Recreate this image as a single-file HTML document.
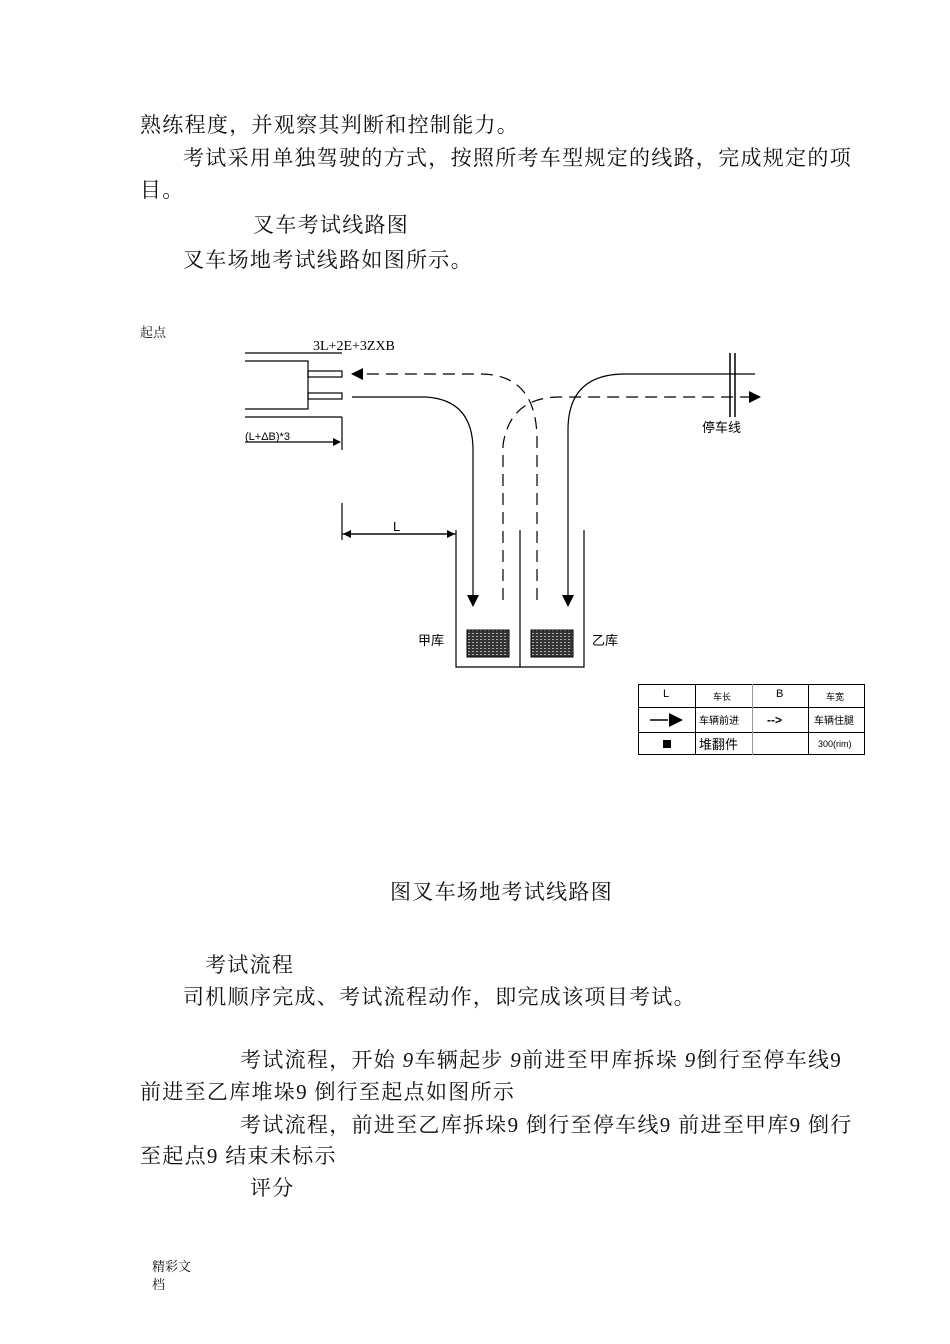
<!DOCTYPE html>
<html><head><meta charset="utf-8"><style>
body{margin:0;width:950px;height:1344px;background:#fff;position:relative;overflow:hidden;font-family:"Liberation Serif","Noto Serif CJK SC","Noto Sans CJK SC",serif;color:#111}
.t{position:absolute;white-space:nowrap;font-size:21px;line-height:24px;letter-spacing:1.3px}
.s{position:absolute;white-space:nowrap;font-family:"Liberation Sans","Noto Sans CJK SC",sans-serif}
svg{position:absolute;left:0;top:0}
</style></head><body>
<div class="t" style="left:140px;top:113px">熟练程度，并观察其判断和控制能力。</div>
<div class="t" style="left:183px;top:146px">考试采用单独驾驶的方式，按照所考车型规定的线路，完成规定的项</div>
<div class="t" style="left:140px;top:178px">目。</div>
<div class="t" style="left:253px;top:213px">叉车考试线路图</div>
<div class="t" style="left:183px;top:248px">叉车场地考试线路如图所示。</div>
<div class="s" style="left:140px;top:322px;font-size:13px;font-family:'Liberation Serif','Noto Serif CJK SC',serif">起点</div>

<svg width="950" height="1344" viewBox="0 0 950 1344">
<defs>
<marker id="a" markerWidth="8" markerHeight="8" refX="7" refY="4" orient="auto" markerUnits="userSpaceOnUse"><path d="M0,0 L8,4 L0,8 z" fill="#000"/></marker>
<marker id="b" markerWidth="12" markerHeight="12" refX="11" refY="6" orient="auto" markerUnits="userSpaceOnUse"><path d="M0,0 L12,6 L0,12 z" fill="#000"/></marker>
<pattern id="p" width="4" height="3" patternUnits="userSpaceOnUse"><rect width="4" height="3" fill="#333"/><rect x="0" y="0" width="2" height="1" fill="#aaa"/></pattern>
</defs>
<g fill="none" stroke="#000" stroke-width="1.2">
<line x1="245" y1="353" x2="342" y2="353"/>
<polyline points="245,361 308,361 308,409 245,409"/>
<rect x="308" y="371" width="34" height="6"/>
<rect x="308" y="393" width="34" height="6"/>
<line x1="245" y1="417" x2="342" y2="417"/>
<line x1="342" y1="417" x2="342" y2="450"/>
<line x1="245" y1="442" x2="340" y2="442" marker-end="url(#a)"/>
<line x1="342" y1="503" x2="342" y2="540"/>
<line x1="456" y1="534" x2="344" y2="534" marker-end="url(#a)"/>
<line x1="342" y1="534" x2="454" y2="534" marker-end="url(#a)"/>
<!-- dashed top -->
<path d="M537,600 L537,440 Q537,374 480,374 L352,374" stroke-dasharray="12,7" marker-end="url(#b)"/>
<!-- solid left -->
<path d="M352,397 L426,397 Q473,400 473,450 L473,606" marker-end="url(#b)"/>
<!-- dashed second -->
<path d="M503,600 L503,445 Q510,397 560,397 L760,397" stroke-dasharray="12,7" marker-end="url(#b)"/>
<!-- solid right -->
<path d="M755,374 L625,374 Q568,374 568,430 L568,606" marker-end="url(#b)"/>
<line x1="730" y1="353" x2="730" y2="417" stroke-width="1.5"/>
<line x1="735" y1="353" x2="735" y2="417" stroke-width="1.5"/>
<polyline points="456,530 456,667 584,667 584,530"/>
<line x1="520" y1="530" x2="520" y2="667"/>
</g>
<rect x="467" y="630" width="42" height="27" fill="url(#p)" stroke="#000"/>
<rect x="531" y="630" width="42" height="27" fill="url(#p)" stroke="#000"/>
<text x="313" y="350" font-family="Liberation Serif" font-size="14">3L+2E+3ZXB</text>
<text x="245" y="440" font-family="Liberation Sans" font-size="11">(L+ΔB)*3</text>
<text x="393" y="531" font-family="Liberation Sans" font-size="13">L</text>
<text x="702" y="432" font-family="Liberation Sans,Noto Sans CJK SC" font-size="13">停车线</text>
<text x="418" y="645" font-family="Liberation Sans,Noto Sans CJK SC" font-size="13">甲库</text>
<text x="592" y="645" font-family="Liberation Sans,Noto Sans CJK SC" font-size="13">乙库</text>
<g stroke="#000" stroke-width="1" fill="none">
<rect x="638.5" y="684.5" width="226" height="70"/>
<line x1="638" y1="707.5" x2="865" y2="707.5"/>
<line x1="638" y1="732.5" x2="865" y2="732.5"/>
<line x1="695.5" y1="684" x2="695.5" y2="755"/>
<line x1="752.5" y1="684" x2="752.5" y2="755" stroke="#999"/>
<line x1="808.5" y1="684" x2="808.5" y2="755"/>
</g>
<g font-family="Liberation Sans,Noto Sans CJK SC" fill="#000">
<text x="663" y="697" font-size="11">L</text>
<text x="713" y="700" font-size="9">车长</text>
<text x="776" y="697" font-size="11">B</text>
<text x="826" y="700" font-size="9">车宽</text>
<line x1="650" y1="720" x2="668" y2="720" stroke="#000" stroke-width="1.5"/>
<path d="M669,713 L683,720 L669,727 z"/>
<text x="699" y="724" font-size="10">车辆前进</text>
<text x="767" y="724" font-size="12" font-weight="bold">--&gt;</text>
<text x="814" y="724" font-size="10">车辆住腿</text>
<rect x="663" y="740" width="8" height="8"/>
<text x="699" y="749" font-size="13">堆翻件</text>
<text x="818" y="747" font-size="9">300(rim)</text>
</g>
</svg>

<div class="t" style="left:390px;top:880px">图叉车场地考试线路图</div>
<div class="t" style="left:205px;top:953px">考试流程</div>
<div class="t" style="left:183px;top:985px">司机顺序完成、考试流程动作，即完成该项目考试。</div>
<div class="t" style="left:240px;top:1048px">考试流程，开始 <i>9</i>车辆起步 <i>9</i>前进至甲库拆垛 <i>9</i>倒行至停车线9</div>
<div class="t" style="left:140px;top:1080px">前进至乙库堆垛9 倒行至起点如图所示</div>
<div class="t" style="left:240px;top:1113px">考试流程，前进至乙库拆垛9 倒行至停车线9 前进至甲库9 倒行</div>
<div class="t" style="left:140px;top:1144px">至起点9 结束未标示</div>
<div class="t" style="left:250px;top:1176px">评分</div>
<div class="s" style="left:152px;top:1256px;font-size:13px;font-family:'Liberation Serif','Noto Serif CJK SC',serif">精彩文</div>
<div class="s" style="left:152px;top:1274px;font-size:13px;font-family:'Liberation Serif','Noto Serif CJK SC',serif">档</div>
</body></html>
